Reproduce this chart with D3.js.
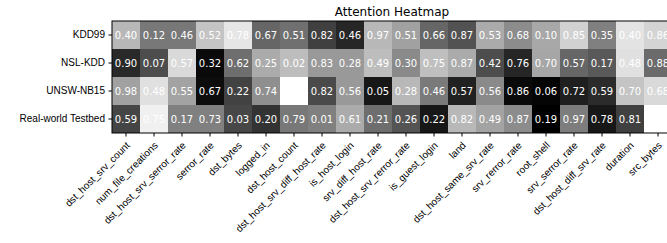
<!DOCTYPE html>
<html>
<head>
<meta charset="utf-8">
<script src="https://cdn.jsdelivr.net/npm/d3@7"></script>
<style>
  body { margin: 0; background: #fff; }
  svg { display: block; font-family: "DejaVu Sans", sans-serif; }
  .celltext { fill: #fff; font-size: 10px; text-anchor: middle; }
  .axis text { font-size: 10px; fill: #000; }
</style>
</head>
<body>
<div id="chart"></div>
<script>

// datasets (rows) and features (columns)
var datasets = ["KDD99", "NSL-KDD", "UNSW-NB15", "Real-world Testbed"];

var features = ["dst_host_srv_count", "num_file_creations", "dst_host_srv_serror_rate",
    "serror_rate", "dst_bytes", "logged_in", "dst_host_count", "dst_host_srv_diff_host_rate",
    "is_host_login", "srv_diff_host_rate", "dst_host_srv_rerror_rate", "is_guest_login",
    "land", "dst_host_same_srv_rate", "srv_rerror_rate", "root_shell", "srv_serror_rate",
    "dst_host_diff_srv_rate", "duration", "src_bytes"];

// attention weights -> cell shade (gray colormap)
var weights = [
    [0.72, 0.47, 0.47, 0.77, 0.90, 0.40, 0.44, 0.25, 0.15, 0.72, 0.63, 0.40, 0.32, 0.67, 0.55, 0.66, 0.82, 0.50, 0.89, 0.83],
    [0.16, 0.30, 0.85, 0.04, 0.43, 0.67, 0.74, 0.60, 0.60, 0.74, 0.54, 0.75, 0.67, 0.30, 0.15, 0.65, 0.40, 0.35, 0.88, 0.42],
    [0.63, 0.88, 0.64, 0.05, 0.26, 0.56, 1.00, 0.29, 0.60, 0.09, 0.72, 0.48, 0.13, 0.54, 0.04, 0.02, 0.12, 0.17, 0.77, 0.85],
    [0.27, 0.94, 0.50, 0.50, 0.28, 0.20, 0.47, 0.50, 0.67, 0.43, 0.33, 0.09, 0.72, 0.64, 0.55, 0.00, 0.49, 0.09, 0.25, 1.00]
];

// numbers printed in the cells
var labels = [
    [0.40, 0.12, 0.46, 0.52, 0.78, 0.67, 0.51, 0.82, 0.46, 0.97, 0.51, 0.66, 0.87, 0.53, 0.68, 0.10, 0.85, 0.35, 0.40, 0.86],
    [0.90, 0.07, 0.57, 0.32, 0.62, 0.25, 0.02, 0.83, 0.28, 0.49, 0.30, 0.75, 0.87, 0.42, 0.76, 0.70, 0.57, 0.17, 0.48, 0.88],
    [0.98, 0.48, 0.55, 0.67, 0.22, 0.74, 0.33, 0.82, 0.56, 0.05, 0.28, 0.46, 0.57, 0.56, 0.86, 0.06, 0.72, 0.59, 0.70, 0.68],
    [0.59, 0.75, 0.17, 0.73, 0.03, 0.20, 0.79, 0.01, 0.61, 0.21, 0.26, 0.22, 0.82, 0.49, 0.87, 0.19, 0.97, 0.78, 0.81, 0.50]
];

var width = 667, height = 243;
var margin = {top: 21, left: 112};
var cell = 28;

var svg = d3.select("#chart").append("svg")
    .attr("width", width)
    .attr("height", height);

var xScale = d3.scaleBand()
    .domain(features)
    .range([margin.left, margin.left + features.length * cell]);

var yScale = d3.scaleBand()
    .domain(datasets)
    .range([margin.top, margin.top + datasets.length * cell]);

var allWeights = [].concat.apply([], weights);
var colorScale = d3.scaleLinear()
    .domain(d3.extent(allWeights))
    .range(["#000000", "#ffffff"]);

// flatten into cells
var cells = [];
datasets.forEach(function(ds, i) {
    features.forEach(function(f, j) {
        cells.push({row: ds, col: f, w: weights[i][j], v: labels[i][j]});
    });
});

svg.selectAll("rect.cell")
    .data(cells)
    .enter()
    .append("rect")
    .attr("class", "cell")
    .attr("x", function(d) { return xScale(d.col); })
    .attr("y", function(d) { return yScale(d.row); })
    .attr("width", xScale.bandwidth())
    .attr("height", yScale.bandwidth())
    .attr("fill", function(d) { return colorScale(d.w); });

svg.selectAll("text.celltext")
    .data(cells)
    .enter()
    .append("text")
    .attr("class", "celltext")
    .attr("x", function(d) { return xScale(d.col) + xScale.bandwidth() / 2; })
    .attr("y", function(d) { return yScale(d.row) + yScale.bandwidth() / 2; })
    .attr("dy", "0.36em")
    .text(function(d) { return d3.format(".2f")(d.v); });

// frame
var y0 = yScale.range()[0], y1 = yScale.range()[1];
var x0 = xScale.range()[0], x1 = xScale.range()[1];
svg.append("rect")
    .attr("x", x0)
    .attr("y", y0)
    .attr("width", x1 - x0)
    .attr("height", y1 - y0)
    .attr("fill", "none")
    .attr("stroke", "#000")
    .attr("stroke-width", 1);

// x axis, labels rotated 45 around their top-right anchor
var xAxis = svg.append("g")
    .attr("class", "axis")
    .attr("transform", "translate(0," + y1 + ")")
    .call(d3.axisBottom(xScale).tickSize(3.5).tickSizeOuter(0));
xAxis.select(".domain").remove();
xAxis.selectAll("text")
    .attr("x", 4.5)
    .attr("y", 13)
    .attr("dy", 0)
    .attr("text-anchor", "end")
    .attr("transform", "rotate(-45,4.5,13)");

// y axis
var yAxis = svg.append("g")
    .attr("class", "axis")
    .attr("transform", "translate(" + x0 + ",0)")
    .call(d3.axisLeft(yScale).tickSize(3.5).tickPadding(3.5).tickSizeOuter(0));
yAxis.select(".domain").remove();

svg.append("text")
    .attr("x", (x0 + x1) / 2)
    .attr("y", 16)
    .attr("text-anchor", "middle")
    .style("font-size", "12px")
    .text("Attention Heatmap");

</script>
</body>
</html>
